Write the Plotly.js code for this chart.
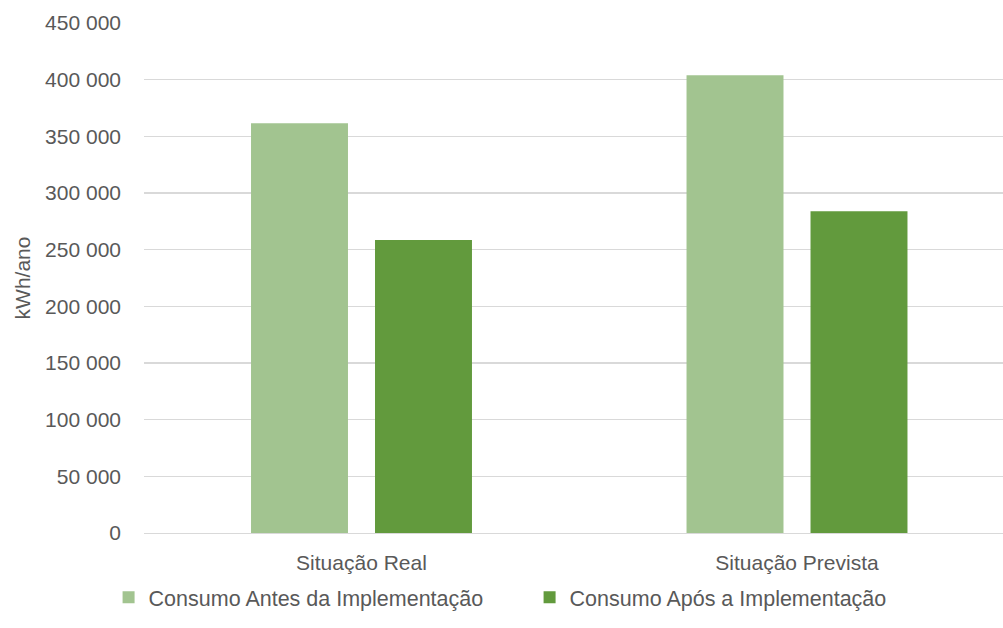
<!DOCTYPE html>
<html>
<head>
<meta charset="utf-8">
<script src="https://cdn.plot.ly/plotly-3.0.1.min.js"></script>
<style>html,body{margin:0;padding:0;background:#fff;}#chart{width:1003px;height:628px;}</style>
</head>
<body>
<div id="chart"></div>
<script>
const categories = ["Situação Real", "Situação Prevista"];
const seriesNames = ["Consumo Antes da Implementação", "Consumo Após a Implementação"];
const consumoAntes = [361500, 403800];
const consumoApos = [258500, 283800];
const yTickVals = [0, 50000, 100000, 150000, 200000, 250000, 300000, 350000, 400000, 450000];
const yTickText = ["0", "50 000", "100 000", "150 000", "200 000", "250 000", "300 000", "350 000", "400 000", "450 000"];

const FONT = "Liberation Sans, Arial, sans-serif";
const TXT = "#595959";

const traces = [
  {type: "bar", name: seriesNames[0], x: categories, y: consumoAntes,
   marker: {color: "#A2C490"}, hoverinfo: "y"},
  {type: "bar", name: seriesNames[1], x: categories, y: consumoApos,
   marker: {color: "#629A3D"}, hoverinfo: "y"}
];

const layout = {
  width: 1003, height: 628,
  paper_bgcolor: "#fff", plot_bgcolor: "#fff",
  margin: {l: 144, r: 0, t: 23, b: 95},
  font: {family: FONT, color: TXT, size: 21},
  barmode: "group",
  bargap: 0.4306,
  bargroupgap: 0.218,
  showlegend: true,
  legend: {orientation: "h", xref: "container", x: 0.528, xanchor: "center",
           yref: "container", y: 0.049, yanchor: "middle",
           entrywidth: 376, entrywidthmode: "pixels",
           font: {size: 21.5, color: TXT}, itemclick: false, traceorder: "normal"},
  xaxis: {type: "category", range: [-0.4994, 1.473], showgrid: false, zeroline: false,
          showline: true, linecolor: "#D9D9D9", linewidth: 1.3,
          ticks: "", ticklabelstandoff: 10, tickfont: {size: 21, color: TXT}},
  yaxis: {range: [0, 450000], tickvals: yTickVals, ticktext: yTickText,
          showgrid: true, gridcolor: "#D9D9D9", gridwidth: 1.3, zeroline: false,
          showline: false, ticks: "", ticklabelstandoff: 22,
          tickfont: {size: 21, color: TXT},
          title: {text: "kWh/ano", font: {size: 21, color: TXT}, standoff: 8}}
};

Plotly.newPlot("chart", traces, layout, {displayModeBar: false, staticPlot: true});
</script>
</body>
</html>
